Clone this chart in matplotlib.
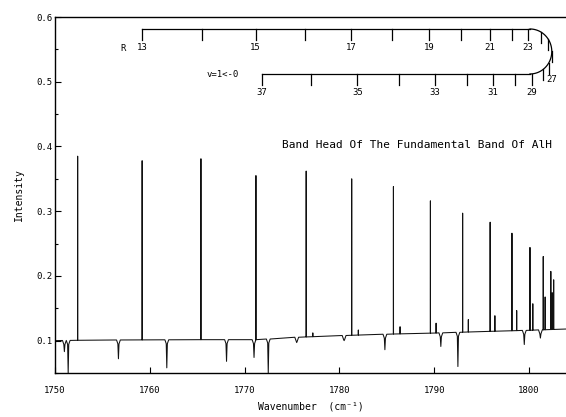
import numpy as np
import matplotlib.pyplot as plt
from matplotlib.ticker import MultipleLocator

plt.rcParams['font.family'] = ['DejaVu Sans Mono', 'DejaVu Sans']

# baseline of the trace, read at a few points
base_x = [1750, 1752, 1756, 1760, 1765, 1770, 1772.4, 1772.7, 1775, 1778, 1780, 1785, 1790, 1795, 1800, 1804]
base_y = [0.100, 0.1005, 0.101, 0.1012, 0.1015, 0.1015, 0.1015, 0.1045, 0.105, 0.1065, 0.1077, 0.110, 0.1117, 0.114, 0.116, 0.118]

# strong R-branch lines (v=1<-0)
line_x = [1752.4, 1759.2, 1765.4, 1771.2, 1776.5, 1781.3, 1785.7, 1789.6, 1793.0, 1795.9, 1798.2, 1800.1, 1801.5, 1802.3, 1802.6]
line_y = [0.385, 0.378, 0.381, 0.355, 0.362, 0.350, 0.338, 0.316, 0.297, 0.283, 0.266, 0.244, 0.230, 0.207, 0.194]

# weak satellite lines
sat_x = [1777.2, 1782.0, 1786.4, 1790.2, 1793.6, 1796.4, 1798.7, 1800.4, 1801.7, 1802.45]
sat_y = [0.112, 0.1165, 0.1215, 0.127, 0.1325, 0.1385, 0.1465, 0.157, 0.1675, 0.174]

# absorption dips
dip_x = [1751.0, 1751.4, 1756.7, 1761.8, 1768.1, 1771.0, 1772.5, 1775.5, 1780.5, 1784.8, 1790.7, 1792.5, 1799.5, 1801.2]
dip_y = [0.083, 0.050, 0.072, 0.058, 0.068, 0.074, 0.050, 0.097, 0.100, 0.086, 0.091, 0.060, 0.094, 0.104]

# rotational numbering on the scale at the top
j_num = list(range(13, 38))
j_x = [1759.16, 1765.47, 1771.16, 1776.42, 1781.26, 1785.58, 1789.47, 1792.84, 1795.89, 1798.21,
       1799.89, 1801.26, 1802.0, 1802.4, 1802.1, 1801.5, 1800.3, 1798.5, 1796.2, 1793.5,
       1790.1, 1786.3, 1781.9, 1777.05, 1771.8]

title = 'Band Head Of The Fundamental Band Of AlH'

# build the trace
events = [(x, y, 'e') for x, y in zip(line_x, line_y)]
events += [(x, y, 'e') for x, y in zip(sat_x, sat_y)]
events += [(x, y, 'd') for x, y in zip(dip_x, dip_y)]
events.sort(key=lambda e: e[0])
px, py = [base_x[0]], [base_y[0]]
for x, y, kind in events:
    b = np.interp(x, base_x, base_y)
    if kind == 'e':
        px += [x - 0.01, x, x + 0.01]
        py += [b, y, b]
    else:
        px += [x - 0.2, x - 0.06, x, x + 0.06, x + 0.2]
        py += [b, b - 0.006, y, b - 0.006, b]
px.append(base_x[-1])
py.append(base_y[-1])

fig = plt.figure(figsize=(5.66, 4.17), dpi=100)
ax = fig.add_axes([0.097, 0.1055, 0.903, 0.8537])
ax.plot(px, py, color='#111111', lw=0.75)

# top scale: upper line, turn-around, lower line
top_y, bot_y = 0.5815, 0.512
xc, a = 1800.1, 2.3
yc, b_ax = (top_y + bot_y) / 2, (top_y - bot_y) / 2
t = np.linspace(np.pi / 2, -np.pi / 2, 60)
ax.plot([j_x[0], xc], [top_y, top_y], color='black', lw=0.9)
ax.plot(xc + a * np.cos(t), yc + b_ax * np.sin(t), color='black', lw=0.9)
ax.plot([j_x[-1], xc], [bot_y, bot_y], color='black', lw=0.9)

for j, x in zip(j_num, j_x):
    upper = j <= 26
    if x > xc:
        s = np.sqrt(max(0.0, 1 - ((x - xc) / a) ** 2))
        y0 = yc + b_ax * s if upper else yc - b_ax * s
    else:
        y0 = top_y if upper else bot_y
    ax.plot([x, x], [y0, y0 - 0.017], color='black', lw=0.9)
    if j % 2 == 1 and j != 25:
        if j == 27:
            ax.text(x + 0.25, y0 - 0.026, str(j), fontsize=6.5, ha='center', va='center')
        else:
            ax.text(x, y0 - 0.029, str(j), fontsize=6.5, ha='center', va='center')

ax.text(1757.2, 0.552, 'R', fontsize=6.5, ha='center', va='center')
ax.text(1767.7, 0.5105, 'v=1<-0', fontsize=6.5, ha='center', va='center')
ax.text(1774.0, 0.4025, title, fontsize=8, ha='left', va='center')

ax.set_xlim(1750, 1803.9)
ax.set_ylim(0.05, 0.6)
ax.set_xticks(np.arange(1750, 1801, 10))
ax.set_yticks(np.arange(0.1, 0.61, 0.1))
ax.set_yticklabels(['0.1', '0.2', '0.3', '0.4', '0.5', '0.6'])
ax.yaxis.set_minor_locator(MultipleLocator(0.05))
ax.tick_params(direction='in', length=4, width=0.8, labelsize=6.5)
ax.tick_params(axis='x', pad=9)
ax.tick_params(axis='y', pad=2)
ax.tick_params(which='minor', direction='in', length=2.5, width=0.8)
ax.spines['right'].set_visible(False)
for s in ['left', 'top', 'bottom']:
    ax.spines[s].set_linewidth(1.0)

ax.set_xlabel('Wavenumber  (cm⁻¹)', fontsize=7, labelpad=5)
ax.set_ylabel('Intensity', fontsize=7, labelpad=9)

fig.savefig('out.png', dpi=100)
